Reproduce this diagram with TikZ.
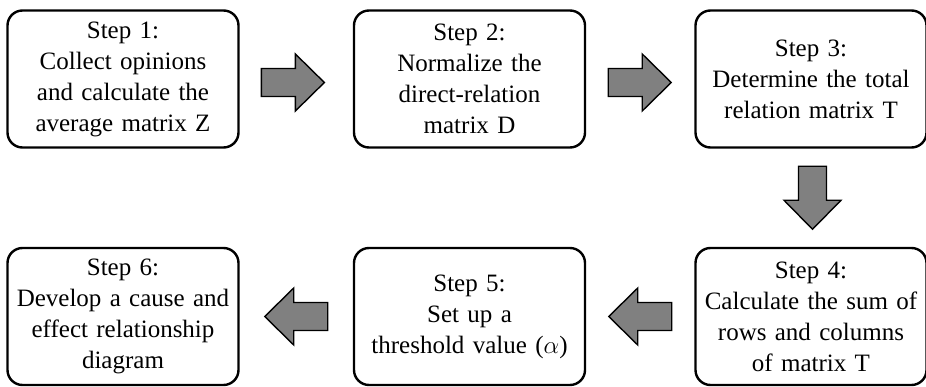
\documentclass[tikz,border=0pt]{standalone}
\usepackage{fontspec}
\setmainfont{Liberation Serif}
\usetikzlibrary{calc}

\tikzset{
  stepbox/.style={draw=black, line width=2.4pt, rounded corners=15pt, fill=white,
    minimum width=231pt, minimum height=137pt, inner sep=0pt,
    text width=228pt, align=center,
    font=\fontsize{25}{31}\selectfont,
    execute at begin node={\setlength{\baselineskip}{31pt}}},
  blockarrow/.pic={
    \filldraw[fill=gray!95!black!95, draw=black, line width=1.4pt, line join=miter]
      (-31.5,-14) -- (2.5,-14) -- (2.5,-28.5) -- (31.5,0) -- (2.5,28.5)
      -- (2.5,14) -- (-31.5,14) -- cycle;
  }
}

\begin{document}
\begin{tikzpicture}[x=1pt, y=-1pt]
  \useasboundingbox (0,0) rectangle (926,387);

  % process steps
  \node[stepbox] (s1) at (123,79)   {Step 1:\\Collect opinions\\and calculate the\\average matrix Z};
  \node[stepbox] (s2) at (469.5,79) {Step 2:\\Normalize the\\direct-relation\\matrix D};
  \node[stepbox] (s3) at (811,79)   {Step 3:\\Determine the total\\relation matrix T};
  \node[stepbox] (s4) at (811,316.5) {Step 4:\\Calculate the sum of\\rows and columns\\of matrix T};
  \node[stepbox] (s5) at (469.5,316.5) {Step 5:\\Set up a\\threshold value ($\alpha$)};
  \node[stepbox] (s6) at (123,316.5) {Step 6:\\Develop a cause and\\effect relationship\\diagram};

  % block arrows between consecutive steps
  \coordinate (a12) at ($(s1.east)!0.47!(s2.west)+(0,3.5)$);
  \coordinate (a23) at ($(s2.east)!0.495!(s3.west)+(0,3.5)$);
  \coordinate (a34) at ($(s3.south)!0.5!(s4.north)+(1.5,0)$);
  \coordinate (a45) at ($(s4.west)!0.5!(s5.east)$);
  \coordinate (a56) at ($(s5.west)!0.5!(s6.east)$);

  \pic at (a12) {blockarrow};
  \pic at (a23) {blockarrow};
  \pic[rotate=-90] at (a34) {blockarrow};
  \pic[rotate=180] at (a45) {blockarrow};
  \pic[rotate=180] at (a56) {blockarrow};
\end{tikzpicture}
\end{document}
